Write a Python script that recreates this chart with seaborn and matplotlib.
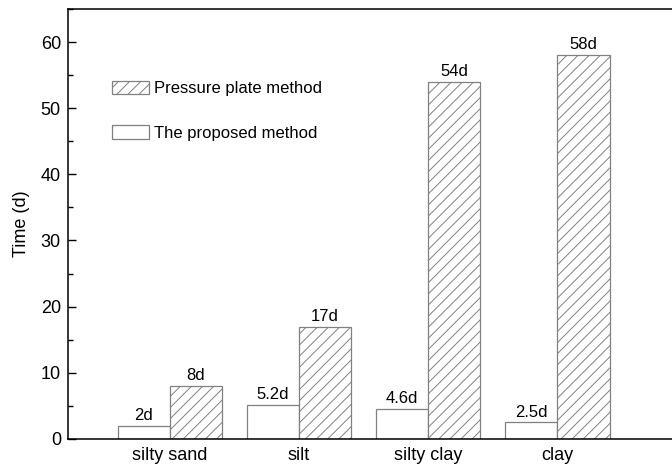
import matplotlib
matplotlib.use("Agg")
import matplotlib.pyplot as plt
from matplotlib.patches import Patch
from matplotlib.ticker import MultipleLocator
import seaborn as sns
import pandas as pd

# Drying time of each soil type under the two methods (days)
soils = ["silty sand", "silt", "silty clay", "clay"]
proposed_days = [2, 5.2, 4.6, 2.5]
pressure_plate_days = [8, 17, 54, 58]
methods = ["The proposed method", "Pressure plate method"]

df = pd.DataFrame({
    "soil": soils * 2,
    "days": proposed_days + pressure_plate_days,
    "method": [methods[0]] * len(soils) + [methods[1]] * len(soils),
})

sns.set_theme(style="ticks")
plt.rcParams["font.family"] = ["Liberation Sans", "DejaVu Sans"]
plt.rcParams["hatch.linewidth"] = 0.7
plt.rcParams["text.color"] = "black"
plt.rcParams["axes.labelcolor"] = "black"
plt.rcParams["xtick.color"] = "black"
plt.rcParams["ytick.color"] = "black"

fig = plt.figure(figsize=(6.72, 4.70), dpi=100)
ax = fig.add_axes([0.101, 0.066, 0.905, 0.915])

edge = "#808080"
sns.barplot(data=df, x="soil", y="days", hue="method", hue_order=methods,
            order=soils, palette=["white", "white"], width=0.81,
            edgecolor=edge, linewidth=0.9, legend=False, ax=ax)

# hatch the pressure plate bars
for bar in ax.containers[1]:
    bar.set_hatch("///")
    bar.set_edgecolor(edge)

for cont in ax.containers:
    ax.bar_label(cont, labels=[f"{b.get_height():g}d" for b in cont],
                 padding=2, fontsize=12, color="black")

ax.set_xlim(-0.79, 3.92)
ax.set_ylim(0, 65)
ax.yaxis.set_major_locator(MultipleLocator(10))
ax.yaxis.set_minor_locator(MultipleLocator(5))
ax.tick_params(axis="y", which="major", direction="in", length=6, width=1.0,
               labelsize=13, color="black", labelcolor="black", pad=5)
ax.tick_params(axis="y", which="minor", direction="in", length=3.5, width=1.0,
               color="black")
ax.tick_params(axis="x", length=0, labelsize=13, labelcolor="black", pad=6)
ax.set_xlabel("")
ax.set_ylabel("Time (d)", fontsize=13, labelpad=8, color="black")

for side in ["left", "bottom", "top"]:
    ax.spines[side].set_linewidth(1.1)
    ax.spines[side].set_color("black")
ax.spines["right"].set_visible(False)

handles = [
    Patch(facecolor="white", edgecolor=edge, hatch="///", linewidth=0.9),
    Patch(facecolor="white", edgecolor=edge, linewidth=0.9),
]
leg = ax.legend(handles, [methods[1], methods[0]], loc="upper left",
                bbox_to_anchor=(0.062, 0.849), frameon=False, fontsize=12,
                handlelength=2.2, handleheight=0.9, handletextpad=0.3,
                labelspacing=1.75, borderaxespad=0)
for t in leg.get_texts():
    t.set_color("black")

fig.savefig("out.png", dpi=100)
